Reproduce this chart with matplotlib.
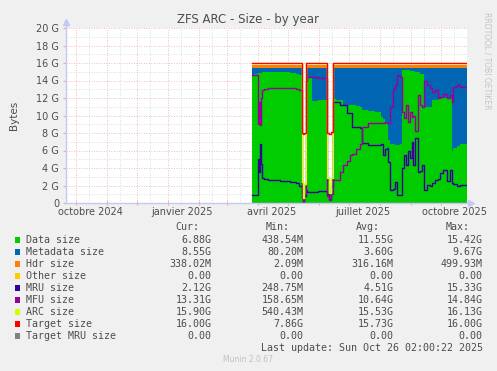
import datetime as dt
import numpy as np
import matplotlib
matplotlib.use('Agg')
import matplotlib.pyplot as plt
from matplotlib.patches import Rectangle

# day offsets from 2024-09-21 (graph start), one day per pixel
start = dt.date(2024, 9, 21)
days = [186, 188, 192, 193, 194, 195, 196, 198, 202, 214,
        224, 230, 233, 236, 237, 238, 240, 241, 246, 252,
        261, 263, 265, 267, 270, 274, 277, 281, 284, 286,
        290, 294, 296, 302, 309, 315, 317, 319, 321, 322,
        324, 327, 329, 331, 334, 336, 338, 340, 342, 344,
        346, 347, 349, 352, 354, 356, 358, 361, 364, 366,
        369, 372, 374, 377, 381, 384, 386, 387, 391, 394,
        401]

data_size = [14.6, 14.8, 14.9, 14.9, 14.9, 14.9, 15.0, 15.0, 15.0, 15.0,
             14.9, 14.7, 14.6, 2.0, 0.44, 1.5, 14.3, 14.3, 11.7, 11.8,
             2.5, 1.0, 2.5, 11.9, 11.8, 11.8, 11.2, 11.2, 11.2, 11.2,
             11.1, 11.0, 10.6, 10.5, 10.4, 9.8, 9.6, 9.3, 9.3, 7.2,
             6.8, 6.7, 6.6, 6.6, 6.8, 15.2, 15.2, 15.2, 15.2, 15.1,
             15.1, 15.1, 15.0, 15.0, 14.8, 14.8, 11.0, 11.0, 11.0, 11.8,
             11.8, 11.9, 12.0, 12.0, 12.0, 12.0, 6.0, 6.3, 6.5, 6.8,
             6.88]

meta_size = [0.82, 0.62, 0.52, 0.52, 0.52, 0.52, 0.42, 0.42, 0.42, 0.42,
             0.52, 0.72, 0.82, 0.2, 0.08, 0.5, 1.12, 1.12, 3.72, 3.62,
             0.3, 0.1, 0.3, 3.52, 3.62, 3.62, 4.22, 4.22, 4.22, 4.22,
             4.32, 4.42, 4.82, 4.92, 5.02, 5.62, 5.82, 6.12, 6.12, 8.22,
             8.62, 8.72, 8.82, 8.82, 8.62, 0.22, 0.22, 0.22, 0.22, 0.32,
             0.32, 0.32, 0.42, 0.42, 0.62, 0.62, 4.42, 4.42, 4.42, 3.62,
             3.62, 3.52, 3.42, 3.42, 3.42, 3.42, 9.42, 9.12, 8.92, 8.62,
             8.55]

hdr_size = [0.33, 0.33, 0.33, 0.33, 0.33, 0.33, 0.33, 0.33, 0.33, 0.33,
            0.33, 0.33, 0.33, 0.1, 0.05, 0.1, 0.33, 0.33, 0.33, 0.33,
            0.1, 0.05, 0.1, 0.33, 0.33, 0.33, 0.33, 0.33, 0.33, 0.33,
            0.33, 0.33, 0.33, 0.33, 0.33, 0.33, 0.33, 0.33, 0.33, 0.33,
            0.33, 0.33, 0.33, 0.33, 0.33, 0.33, 0.33, 0.33, 0.33, 0.33,
            0.33, 0.33, 0.33, 0.33, 0.33, 0.33, 0.33, 0.33, 0.33, 0.33,
            0.33, 0.33, 0.33, 0.33, 0.33, 0.33, 0.33, 0.33, 0.33, 0.33,
            0.338]

mru_size = [0.9, 0.9, 5.0, 3.5, 6.8, 4.5, 2.9, 2.7, 2.6, 2.55,
            2.45, 2.3, 2.0, 1.2, 0.25, 0.8, 1.5, 1.3, 1.3, 1.4,
            1.0, 0.5, 2.0, 11.6, 11.6, 11.2, 11.2, 10.3, 10.3, 8.7,
            8.7, 8.6, 6.9, 6.6, 6.6, 6.7, 5.5, 6.2, 6.3, 4.7,
            1.5, 1.6, 2.4, 0.9, 0.9, 4.0, 5.5, 4.3, 5.9, 5.1,
            7.0, 4.3, 7.4, 3.6, 3.7, 4.3, 1.5, 2.1, 1.9, 2.3,
            2.6, 2.8, 3.4, 3.8, 2.5, 3.8, 2.3, 2.2, 1.9, 2.1,
            2.12]

mfu_size = [14.6, 14.6, 9.0, 11.5, 8.9, 12.0, 12.9, 13.0, 13.1, 13.2,
            13.2, 13.0, 12.9, 0.6, 0.16, 1.0, 14.0, 14.4, 14.4, 14.3,
            0.8, 0.3, 1.0, 2.6, 2.6, 3.5, 4.3, 4.8, 5.5, 5.6,
            6.2, 6.8, 8.7, 9.1, 9.2, 9.2, 9.1, 9.3, 9.2, 9.1,
            11.0, 13.0, 13.5, 14.6, 14.4, 10.4, 9.7, 11.2, 9.3, 10.4,
            9.8, 10.0, 8.2, 12.3, 11.2, 11.0, 13.9, 13.5, 13.1, 12.7,
            12.9, 12.0, 12.1, 12.5, 12.0, 12.3, 11.6, 13.3, 13.5, 13.3,
            13.31]

arc_size = [15.96] * 13 + [2.4, 0.54, 2.2] + [15.96] * 4 + [2.9, 1.2, 2.9] + [15.96] * 48
target_size = [16.0] * 13 + [8.0, 7.9, 8.0] + [16.0] * 4 + [8.0, 7.86, 8.1] + [16.0] * 48
target_mru = [0.0] * 71

legend_names = ['Data size', 'Metadata size', 'Hdr size', 'Other size', 'MRU size',
                'MFU size', 'ARC size', 'Target size', 'Target MRU size']
legend_colors = ['#00cc00', '#0066b3', '#ff8000', '#ffcc00', '#330099',
                 '#990099', '#ccff00', '#ff0000', '#808080']
cur = ['6.88G', '8.55G', '338.02M', '0.00', '2.12G', '13.31G', '15.90G', '16.00G', '0.00']
mins = ['438.54M', '80.20M', '2.09M', '0.00', '248.75M', '158.65M', '540.43M', '7.86G', '0.00']
avgs = ['11.55G', '3.60G', '316.16M', '0.00', '4.51G', '10.64G', '15.53G', '15.73G', '0.00']
maxs = ['15.42G', '9.67G', '499.93M', '0.00', '15.33G', '14.84G', '16.13G', '16.00G', '0.00']

month_labels = ['octobre 2024', 'janvier 2025', 'avril 2025', 'juillet 2025', 'octobre 2025']
label_dates = [dt.date(2024, 10, 15), dt.date(2025, 1, 15), dt.date(2025, 4, 15),
               dt.date(2025, 7, 15), dt.date(2025, 10, 15)]

W, H = 497, 371
txt = '#4d4d4d'
major_c = '#e8a8a8'
minor_c = '#d0d0d0'
axis_c = '#c4c8f4'

fig = plt.figure(figsize=(W / 100, H / 100), dpi=100, facecolor='#f0f0f0')
ax = fig.add_axes([66 / W, 1 - 203 / H, 401 / W, 175 / H])
ax.set_facecolor('white')
ax.set_xlim(0, 401)
ax.set_ylim(0, 20)
for s in ax.spines.values():
    s.set_visible(False)

# grid
for g in range(1, 21):
    ax.axhline(g, color=major_c if g % 2 == 0 else minor_c, lw=0.6,
               ls=(0, (1, 2)), zorder=0.5)
month_starts = []
for yr, mo in [(2024, 10), (2024, 11), (2024, 12)] + [(2025, k) for k in range(1, 11)]:
    month_starts.append((dt.date(yr, mo, 1) - start).days)
for d in month_starts:
    ax.axvline(d, color=major_c, lw=0.6, ls=(0, (1, 2)), zorder=0.5)
    ax.axvline(d + 13, color=minor_c, lw=0.6, ls=(0, (1, 2)), zorder=0.5)

x = np.array(days)
d = np.array(data_size)
m = np.array(meta_size)
h = np.array(hdr_size)
ax.fill_between(x, 0, d, step='post', color='#00cc00', lw=0, zorder=2)
ax.fill_between(x, d, d + m, step='post', color='#0066b3', lw=0, zorder=2)
ax.fill_between(x, d + m, d + m + h, step='post', color='#ff8000', lw=0, zorder=2)

for vals, col in [(mru_size, '#330099'), (mfu_size, '#990099'), (arc_size, '#ccff00'),
                  (target_size, '#ff0000'), (target_mru, '#808080')]:
    ax.plot(x, vals, drawstyle='steps-post', color=col, lw=1.0, zorder=3)

# axes with arrows
ax.plot([0, 0], [0, 20.5], color=axis_c, lw=1, clip_on=False, zorder=4)
ax.plot([0, 404], [0, 0], color=axis_c, lw=1, clip_on=False, zorder=4)
ax.plot(0, 20.7, marker='^', ms=4, color=axis_c, clip_on=False, zorder=4)
ax.plot(405, 0, marker='>', ms=4, color=axis_c, clip_on=False, zorder=4)

ax.set_yticks(range(0, 21, 2))
ax.set_yticklabels(['0'] + ['%d G' % v for v in range(2, 21, 2)])
ax.tick_params(axis='y', length=2, color=major_c, pad=3, labelsize=7, labelcolor=txt)
ax.set_xticks(month_starts)
ax.set_xticklabels([''] * len(month_starts))
ax.set_xticks([(ld - start).days for ld in label_dates], minor=True)
ax.set_xticklabels(month_labels, minor=True)
ax.tick_params(axis='x', which='major', length=3, direction='inout', color=major_c)
ax.tick_params(axis='x', which='minor', length=0, pad=3, labelsize=7, labelcolor=txt)

fig.text(248 / W, 1 - 19 / H, 'ZFS ARC - Size - by year', ha='center', va='center',
         fontsize=8.5, color=txt)
fig.text(14 / W, 1 - 115 / H, 'Bytes', rotation=90, ha='center', va='center',
         fontsize=7.5, color=txt)
fig.text(487 / W, 1 - 61 / H, 'RRDTOOL / TOBI OETIKER', rotation=270, ha='center',
         va='center', fontsize=5.5, color='#c4c4c4')

# legend table
mono = dict(family='DejaVu Sans Mono', fontsize=7.2, color=txt, va='center')
hy = 227.3
for lab, xr in [('Cur:', 199), ('Min:', 290), ('Avg:', 380), ('Max:', 470)]:
    fig.text(xr / W, 1 - hy / H, lab, ha='right', **mono)
for i, name in enumerate(legend_names):
    yy = 239.7 + 12 * i
    fig.add_artist(Rectangle((14.5 / W, 1 - (yy + 3) / H), 5.5 / W, 5.5 / H,
                             transform=fig.transFigure, color=legend_colors[i], lw=0))
    fig.text(26 / W, 1 - yy / H, name, ha='left', **mono)
    for col, xr in [(cur, 211.7), (mins, 303.3), (avgs, 393.3), (maxs, 482.7)]:
        fig.text(xr / W, 1 - yy / H, col[i], ha='right', **mono)
fig.text(482.7 / W, 1 - 347.7 / H, 'Last update: Sun Oct 26 02:00:22 2025', ha='right', **mono)
fig.text(248 / W, 1 - 360 / H, 'Munin 2.0.67', ha='center', va='center', fontsize=5.5,
         color='#c0c0c0')

fig.savefig('out.png', dpi=100, facecolor=fig.get_facecolor())
